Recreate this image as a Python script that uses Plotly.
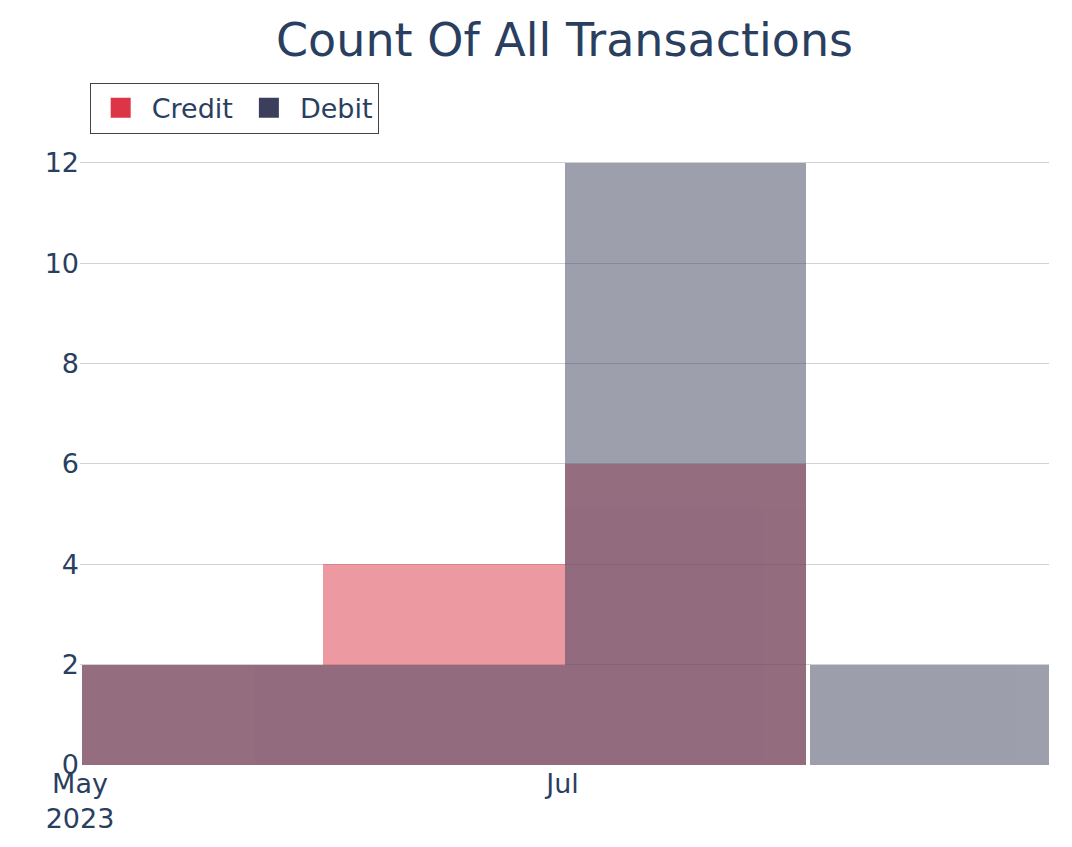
import plotly.graph_objects as go

months = ["2023-05-15", "2023-06-15", "2023-07-15", "2023-08-15"]
credit_counts = [2, 4, 6, 0]
debit_counts = [2, 2, 12, 2]
series_names = ["Credit", "Debit"]
series_colors = ["#dc3545", "#3b3f5c"]
x_tick_vals = ["2023-05-01", "2023-07-01"]
x_tick_text = ["May<br>2023", "Jul"]

fig = go.Figure()
for name, counts, color in zip(series_names, [credit_counts, debit_counts], series_colors):
    fig.add_trace(go.Histogram(
        x=months, y=counts, histfunc="sum", name=name, showlegend=False,
        legendgroup=name,
        xbins=dict(start="2023-05-01", end="2023-09-01", size="M1"),
        marker=dict(color=color, line=dict(width=0)), opacity=0.5,
    ))
    # legend swatch (opaque square, as in the reference)
    fig.add_trace(go.Scatter(
        x=[None], y=[None], mode="markers", name=name, legendgroup=name,
        marker=dict(symbol="square", size=16, color=color, line=dict(width=4, color=color)),
    ))

font_family = "DejaVu Sans"
# the page body has an 8px margin; compensate so the plot lands where the reference has it
fig.update_layout(
    barmode="overlay",
    width=1064, height=839,
    margin=dict(l=72, r=23, t=123, b=82),
    paper_bgcolor="white", plot_bgcolor="white",
    font=dict(family=font_family, size=27, color="#2a3f5f"),
    title=dict(text="Count Of All Transactions", x=0.5, xref="paper", xanchor="center",
               y=1 - 32 / 839, yref="container", yanchor="middle",
               font=dict(size=46, family=font_family, color="#2a3f5f")),
    legend=dict(orientation="h", x=0.01, y=1.076, xanchor="left", yanchor="top",
                bordercolor="#444", borderwidth=1, font=dict(size=27), itemwidth=52),
    xaxis=dict(showgrid=False, zeroline=False, tickmode="array",
               tickvals=x_tick_vals, ticktext=x_tick_text, automargin=False,
               range=["2023-05-01", "2023-08-31 12:00"]),
    yaxis=dict(gridcolor="#d2d2d6", zeroline=False, dtick=2, automargin=False),
)

fig.write_html("out.html")
